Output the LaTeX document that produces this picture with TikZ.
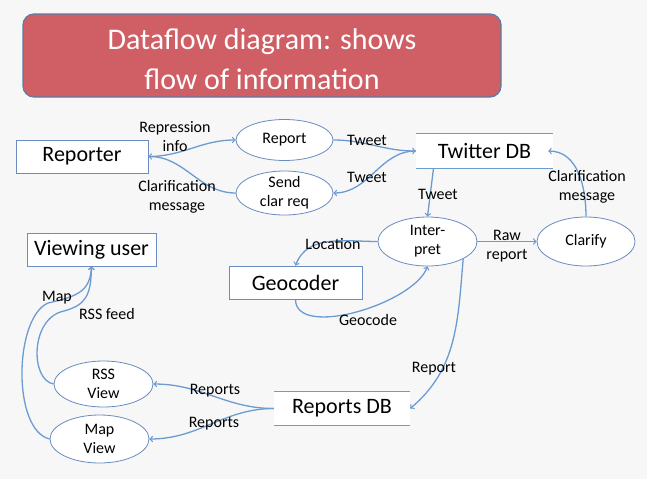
\documentclass[tikz,border=0pt]{standalone}
\usepackage{fontspec}
\setmainfont{Carlito}
\usetikzlibrary{shapes.geometric}

\definecolor{slidebg}{HTML}{F7F7F7}
\definecolor{titlered}{HTML}{D05E65}
\definecolor{titleedge}{HTML}{5B7BA6}
\definecolor{flowblue}{HTML}{6C9BD2}
\definecolor{edgeblue}{HTML}{6A8CC0}

\begin{document}
\begin{tikzpicture}[x=1pt,y=1pt,
        flow/.style={draw=flowblue, line width=1.3pt},
        box/.style={draw=edgeblue, line width=0.8pt, fill=white, inner sep=0pt, font=\fontsize{22}{26}\selectfont},
        proc/.style={ellipse, draw=edgeblue, line width=0.8pt, fill=white, inner sep=-8pt, align=center, font=\fontsize{16}{19}\selectfont},
        store/.style={fill=white, inner sep=0pt, font=\fontsize{22}{26}\selectfont},
        lbl/.style={align=center, inner sep=0pt, font=\fontsize{16}{19}\selectfont}]

            \fill[slidebg] (0,0) rectangle (647,-479);
            \useasboundingbox (0,0) rectangle (647,-479);

            \draw[fill=titlered, draw=titleedge, line width=1.2pt, rounded corners=11pt] (23,-14) rectangle (501,-97);
                \node[align=center, text=white, font=\fontsize{30}{40}\selectfont] (title) at (262,-59) {Dataflow diagram: shows\\flow of information};

            \node[box, minimum width=132, minimum height=33] (reporter) at (82,-156.5) {Reporter};
            \node[box, minimum width=129, minimum height=33] (viewing) at (91.5,-249.5) {Viewing user};
            \node[box, minimum width=133, minimum height=33] (geocoder) at (295.5,-282.5) {Geocoder};

            \node[proc, minimum width=97, minimum height=41] (report) at (284.5,-140) {Report};
            \node[proc, minimum width=97, minimum height=44] (sendclar) at (284.5,-193) {Send\\clar req};
            \node[proc, minimum width=99, minimum height=49] (inter) at (427.5,-241.5) {Inter-\\pret};
            \node[proc, minimum width=98, minimum height=49] (clarify) at (586,-241.5) {Clarify};
            \node[proc, minimum width=99, minimum height=46] (rssview) at (103.5,-384) {RSS\\View};
            \node[proc, minimum width=99, minimum height=48] (mapview) at (99.5,-439) {Map\\View};

            \node[store, minimum width=137, minimum height=34] (twitter) at (484.5,-151) {Twitter DB};
                \draw[flow] (twitter.north west) -- (twitter.north east);
                \draw[flow] (twitter.south west) -- (twitter.south east);
            \node[store, minimum width=136, minimum height=33] (reportsdb) at (342,-408.5) {Reports DB};
                \draw[flow] (reportsdb.north west) -- (reportsdb.north east);
                \draw[flow] (reportsdb.south west) -- (reportsdb.south east);

            \coordinate (mapbend) at (48,-303);
            \coordinate (rssbend) at (64,-311);

            \draw[flow,->] (reporter.east) to[out=0,in=180] (report.west);
            \draw[flow,->] (sendclar.west) to[out=180,in=0] (reporter.east);
            \draw[flow,->] (report.east) to[out=0,in=180] (twitter.west);
            \draw[flow,->] (twitter.west) to[out=180,in=0] (sendclar.east);
            \draw[flow,->] ([xshift=-51pt]twitter.south) -- (inter.north);
            \draw[flow,->] (inter.east) -- (clarify.west);
            \draw[flow,->] (clarify.north) to[out=90,in=0] ([xshift=-5pt]twitter.east);
            \draw[flow,->] (inter.west) to[out=180,in=70] (geocoder.north);
            \draw[flow,->] (geocoder.south) to[out=-90,in=-110,looseness=0.75] (inter.south);
            \draw[flow,->] (inter.-26) to[out=-95,in=40] (reportsdb.east);
            \draw[flow,->] (reportsdb.west) to[out=180,in=0] (rssview.east);
            \draw[flow,->] (reportsdb.west) to[out=180,in=0] (mapview.east);
            \draw[flow,->] (rssview.west) .. controls (30,-380) and (30,-318) .. (rssbend) .. controls (86,-305) and (91,-295) .. (viewing.south);
            \draw[flow,->] (mapview.west) .. controls (12,-430) and (14,-318) .. (mapbend) .. controls (80,-296) and (90,-290) .. (viewing.south);

            \node[lbl] (repinfo) at (175,-137) {Repression\\info};
            \node[lbl] (clarmsg) at (177,-197) {Clarification\\message};
            \node[lbl] (tweetup) at (367,-140) {Tweet};
            \node[lbl] (tweetdown) at (367,-177) {Tweet};
            \node[lbl] (tweetinter) at (438,-194) {Tweet};
            \node[lbl] (rawreport) at (507,-246) {Raw\\report};
            \node[lbl] (clarback) at (587,-187) {Clarification\\message};
            \node[lbl] (location) at (333,-244) {Location};
            \node[lbl] (geocode) at (368,-320) {Geocode};
            \node[lbl] (reportlbl) at (434,-369) {Report};
            \node[lbl] (rssreports) at (215,-391) {Reports};
            \node[lbl] (mapreports) at (214,-424) {Reports};
            \node[lbl] (maplbl) at (57,-298) {Map};
            \node[lbl] (rssfeed) at (107,-314) {RSS feed};

      \end{tikzpicture}
\end{document}
